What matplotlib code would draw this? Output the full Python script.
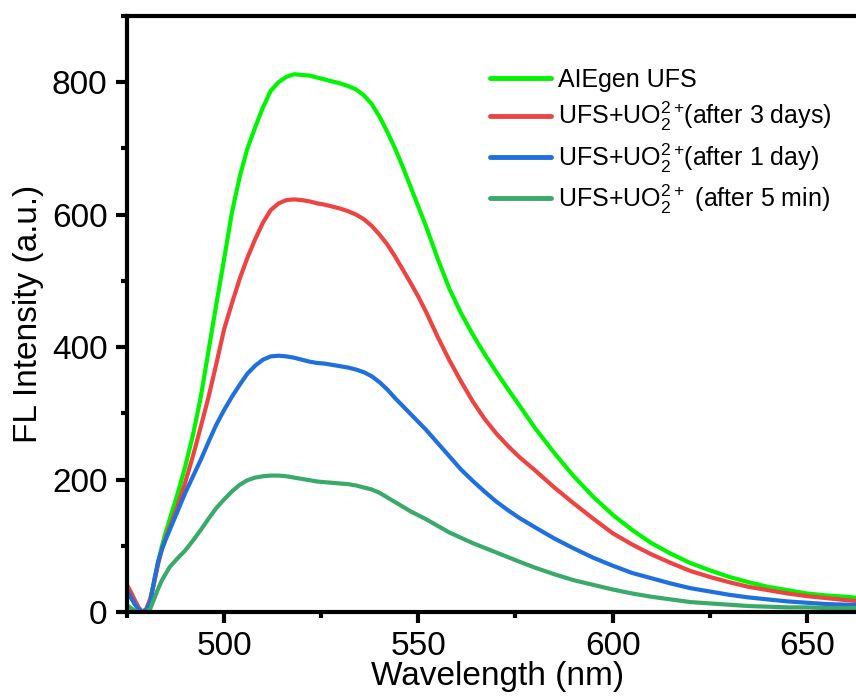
import matplotlib
matplotlib.use("Agg")
import matplotlib.pyplot as plt
from matplotlib.ticker import MultipleLocator

plt.rcParams["font.family"] = ["Liberation Sans", "DejaVu Sans"]
plt.rcParams["mathtext.default"] = "regular"

# Emission spectra (wavelength in nm, intensity in a.u.)
wavelength = [475, 476, 477, 478, 479, 480, 481, 482, 483, 484, 485, 486, 488,
              490, 492, 494, 496, 498, 500, 502, 504, 506, 508, 510, 512, 514,
              516, 518, 520, 522, 524, 526, 528, 530, 532, 534, 536, 538, 540,
              542, 544, 546, 548, 550, 552, 555, 558, 561, 564, 567, 570, 573,
              576, 580, 585, 590, 595, 600, 605, 610, 615, 620, 625, 630, 635,
              640, 645, 650, 655, 660, 666]

aiegen_ufs = [30, 22, 12, 4, 0, 4, 20, 45, 75, 100, 121, 140, 178,
              220, 268, 325, 395, 465, 533, 603, 657, 700, 732, 762, 787, 800,
              808, 812, 811, 810, 807, 804, 801, 798, 794, 789, 780, 767, 748,
              725, 700, 672, 642, 612, 582, 533, 488, 451, 419, 390, 363, 337,
              312, 278, 240, 205, 174, 147, 124, 104, 88, 74, 63, 53, 45,
              38, 33, 28, 25, 23, 20]

after_3_days = [41, 30, 18, 7, 0, 5, 20, 45, 72, 95, 113, 128, 160,
                196, 236, 280, 325, 375, 427, 466, 503, 535, 563, 588, 607, 617,
                622, 623, 622, 620, 617, 615, 612, 609, 605, 600, 593, 583, 570,
                555, 537, 517, 497, 476, 453, 415, 380, 348, 318, 292, 270, 251,
                234, 214, 188, 164, 141, 119, 102, 87, 74, 62, 53, 45, 38,
                33, 28, 24, 21, 18, 15]

after_1_day = [33, 22, 12, 4, 0, 3, 15, 48, 76, 95, 110, 124, 152,
               180, 205, 230, 257, 283, 305, 325, 343, 360, 372, 381, 386, 387,
               386, 384, 381, 378, 376, 375, 373, 371, 369, 366, 362, 356, 347,
               336, 323, 311, 299, 287, 275, 255, 235, 215, 198, 182, 167, 154,
               142, 128, 111, 96, 82, 70, 59, 51, 43, 36, 31, 26, 22,
               19, 16, 14, 12, 11, 10]

after_5_min = [10, 6, 2, 0, 0, 0, 5, 20, 35, 48, 58, 68, 81,
               93, 108, 124, 141, 157, 170, 182, 192, 199, 203, 205, 206, 206,
               205, 203, 201, 199, 197, 196, 195, 194, 193, 191, 188, 185, 180,
               173, 166, 159, 152, 146, 140, 130, 120, 112, 104, 97, 90, 83,
               76, 67, 57, 48, 41, 34, 28, 23, 19, 15, 13, 11, 9,
               8, 7, 7, 6, 6, 6]

series = [
    ("AIEgen UFS", aiegen_ufs, "#00f500"),
    ("UFS+UO$_2^{2+}\\!$(after 3 days)", after_3_days, "#ee4343"),
    ("UFS+UO$_2^{2+}\\!$(after 1 day)", after_1_day, "#1f6fdf"),
    ("UFS+UO$_2^{2+}$ (after 5 min)", after_5_min, "#3aaa6a"),
]

fig = plt.figure(figsize=(8.56, 6.99), dpi=100)
ax = fig.add_axes([127 / 856, 87 / 699, 742 / 856, 596 / 699])

for label, values, color in series:
    ax.plot(wavelength, values, color=color, lw=3.0, label=label,
            solid_capstyle="round", solid_joinstyle="round")

ax.set_xlim(475, 666)
ax.set_ylim(0, 900)
ax.xaxis.set_major_locator(MultipleLocator(50))
ax.xaxis.set_minor_locator(MultipleLocator(25))
ax.yaxis.set_major_locator(MultipleLocator(200))
ax.yaxis.set_minor_locator(MultipleLocator(100))

for side in ("left", "bottom", "top", "right"):
    ax.spines[side].set_linewidth(3.0)
    ax.spines[side].set_capstyle("projecting")

ax.tick_params(which="major", direction="out", length=8, width=3,
               labelsize=24, pad=6, top=False, right=False)
ax.tick_params(which="minor", direction="out", length=4, width=3,
               top=False, right=False)

ax.set_xlabel("Wavelength (nm)", fontsize=24, labelpad=-1)
ax.set_ylabel("FL Intensity (a.u.)", fontsize=24, labelpad=6)

leg = ax.legend(loc="upper left", bbox_to_anchor=(490 / 856, 1 - 68 / 699),
                bbox_transform=fig.transFigure, frameon=False, fontsize=18,
                handlelength=2.45, handletextpad=0.25, labelspacing=0.32,
                borderpad=0, borderaxespad=0)
for line in leg.get_lines():
    line.set_linewidth(3.5)

fig.savefig("out.png", dpi=100)
